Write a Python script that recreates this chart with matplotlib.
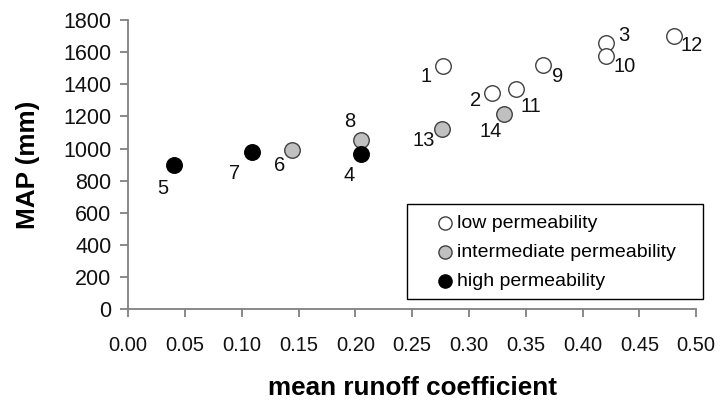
import matplotlib
matplotlib.use("Agg")
import matplotlib.pyplot as plt
from matplotlib.patches import Rectangle

plt.rcParams["font.family"] = ["Liberation Sans", "DejaVu Sans"]

# site number, mean runoff coefficient, MAP (mm)
low_ids = ["1", "2", "3", "9", "10", "11", "12"]
low_x = [0.277, 0.320, 0.421, 0.365, 0.421, 0.341, 0.480]
low_y = [1515, 1343, 1658, 1519, 1575, 1370, 1702]

mid_ids = ["6", "8", "13", "14"]
mid_x = [0.144, 0.205, 0.276, 0.331]
mid_y = [990, 1052, 1119, 1212]

high_ids = ["4", "5", "7"]
high_x = [0.205, 0.040, 0.109]
high_y = [965, 897, 978]

# label offsets in points (dx, dy)
offsets = {
    "1": (-12, -8), "2": (-12, -5), "3": (12.5, 5.5), "4": (-8.4, -15),
    "5": (-8.1, -16.8), "6": (-8.4, -10.8), "7": (-12.2, -15.3), "8": (-8.4, 13.2),
    "9": (10.4, -8.4), "10": (13, -7.7), "11": (11.3, -12.7), "12": (13, -6.7),
    "13": (-13.2, -7.7), "14": (-9.6, -12.5),
}

fig = plt.figure(figsize=(7.2, 4.01), dpi=100)
ax = fig.add_axes([0.178, 0.229, 0.789, 0.721])

edge = "#404040"
ax.scatter(low_x, low_y, s=125, facecolor="white", edgecolor=edge, linewidth=1,
           label="low permeability", zorder=3)
ax.scatter(mid_x, mid_y, s=125, facecolor="#c0c0c0", edgecolor=edge, linewidth=1,
           label="intermediate permeability", zorder=3)
ax.scatter(high_x, high_y, s=125, facecolor="black", edgecolor="black", linewidth=1,
           label="high permeability", zorder=3)

for ids, xs, ys in [(low_ids, low_x, low_y), (mid_ids, mid_x, mid_y),
                    (high_ids, high_x, high_y)]:
    for i, x, y in zip(ids, xs, ys):
        dx, dy = offsets[i]
        ax.annotate(i, (x, y), xytext=(dx, dy), textcoords="offset points",
                    ha="center", va="center", fontsize=14.5, color="#111111")

ax.set_xlim(0, 0.5)
ax.set_ylim(0, 1800)
ax.set_xticks([i * 0.05 for i in range(11)])
ax.set_xticklabels([f"{i * 0.05:.2f}" for i in range(11)])
ax.set_yticks(range(0, 1801, 200))

for side in ["top", "right"]:
    ax.spines[side].set_visible(False)
for side in ["left", "bottom"]:
    ax.spines[side].set_color("#808080")
    ax.spines[side].set_linewidth(1.3)
ax.tick_params(axis="both", direction="out", length=6, width=1.3, color="#808080",
               labelsize=14.5, labelcolor="#111111")
ax.tick_params(axis="x", pad=13)
ax.tick_params(axis="y", labelsize=15.5, pad=6)

ax.set_xlabel("mean runoff coefficient", fontsize=18.8, fontweight="bold", va="center")
ax.xaxis.set_label_coords(0.5, -0.273)
ax.set_ylabel("MAP (mm)", fontsize=18.8, fontweight="bold", va="center")
ax.yaxis.set_label_coords(-0.176, 0.5)

# legend box drawn separately so the entries can sit inset from its left edge
box = Rectangle((0.5649, 0.2544), 0.4111, 0.2369, transform=fig.transFigure,
                facecolor="white", edgecolor="black", linewidth=1, zorder=4,
                clip_on=False)
ax.add_patch(box)
leg = ax.legend(loc="center left", bbox_to_anchor=(0.6046, 0.3716),
                bbox_transform=fig.transFigure, fontsize=14, frameon=False,
                handletextpad=0.1, markerscale=0.85, borderpad=0, labelspacing=0.58,
                handlelength=1.0, borderaxespad=0)
leg.set_zorder(5)

fig.savefig("out.png", dpi=100)
